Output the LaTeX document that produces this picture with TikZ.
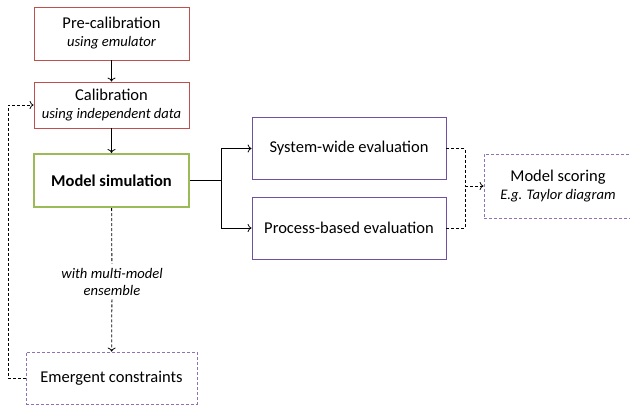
\documentclass[tikz,border=0pt]{standalone}
\usepackage{fontspec}
\setmainfont{Carlito}
\usetikzlibrary{positioning,arrows.meta}
\definecolor{calred}{RGB}{192,80,77}
\definecolor{simgreen}{RGB}{155,187,89}
\definecolor{evalpurple}{RGB}{112,80,160}
\newcommand\noteit{\fontsize{14.6}{17}\selectfont\itshape}

\begin{document}
\begin{tikzpicture}[x=1pt,y=-1pt,>={To[length=4pt,width=8pt]},
	box/.style={draw,line width=0.8pt,align=center,font=\fontsize{16.5}{18}\selectfont},
	redbox/.style={box,draw=calred,minimum width=155pt},
	purplebox/.style={box,draw=evalpurple,minimum width=194pt,minimum height=62pt},
	dashbox/.style={box,draw=evalpurple!80,dash pattern=on 3pt off 2pt},
	dashline/.style={dash pattern=on 3pt off 2pt},
	note/.style={font=\noteit}]
\useasboundingbox (0,0) rectangle (630,407);
\node [redbox, minimum height=53pt] (pre) at (111.5,33.5) {Pre-calibration\\{\noteit using emulator}};
\node [redbox, minimum height=46pt] (cal) at (111.5,105) {Calibration\\{\noteit using independent data}};
\node [box, draw=simgreen, line width=2pt, minimum width=155pt, minimum height=53pt, font=\fontsize{16.5}{18}\selectfont\bfseries] (sim) at (111.5,180.5) {Model simulation};
\node [purplebox] (sys) at (349,148.5) {System-wide evaluation};
\node [purplebox] (proc) at (349,228) {Process-based evaluation};
\node [dashbox, minimum width=148pt, minimum height=64pt] (score) at (558,186) {Model scoring\\{\noteit E.g. Taylor diagram}};
\node [dashbox, minimum width=171pt, minimum height=52pt] (emer) at (111.5,378) {Emergent constraints};
\node [note, align=center, inner sep=4pt] (ens) at (112,281.5) {with multi-model\\ensemble};
\coordinate (split) at (221,180.5);
\coordinate (join) at (465,186);
\coordinate (back) at (8,378);
\draw [->, line width=0.8pt] (pre) -- (cal);
\draw [->, line width=0.8pt] (cal) -- (sim);
\draw [line width=0.8pt] (sim.east) -- (split);
\draw [->, line width=0.8pt] (split) |- (sys.west);
\draw [->, line width=0.8pt] (split) |- (proc.west);
\draw [dashline, line width=0.8pt] (sys.east) -| (join);
\draw [dashline, line width=0.8pt] (proc.east) -| (join);
\draw [dashline, ->, line width=0.8pt] (join) -- (score.west);
\draw [dashline, line width=0.8pt] (sim) -- (ens);
\draw [dashline, ->, line width=0.8pt] (ens) -- (emer);
\draw [dashline, ->, line width=0.8pt] (emer.west) -- (back) |- (cal.west);
\end{tikzpicture}
\end{document}
